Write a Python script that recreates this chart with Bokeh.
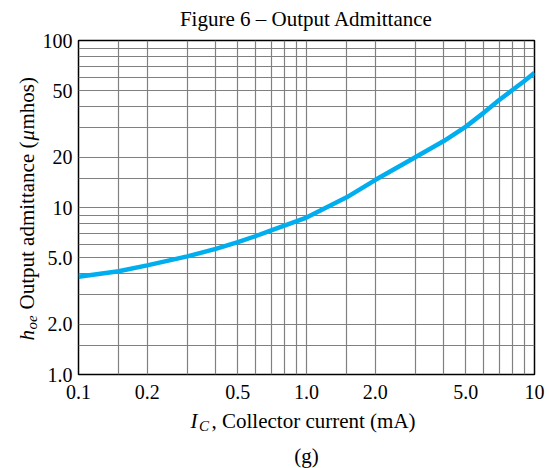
import math
from bokeh.plotting import figure
from bokeh.models import Range1d, FixedTicker, CustomJSTickFormatter, Label, ColumnDataSource
from bokeh.embed import file_html
from bokeh.resources import INLINE

# ---- data ----
ic = [0.1, 0.15, 0.2, 0.3, 0.4, 0.5, 0.6, 0.7, 0.8, 0.9, 1.0,
      1.5, 2.0, 3.0, 4.0, 5.0, 6.0, 7.0, 8.0, 9.0, 10.0]
hoe = [3.85, 4.15, 4.5, 5.1, 5.65, 6.2, 6.75, 7.3, 7.8, 8.25, 8.7,
       11.5, 14.6, 20.0, 25.0, 30.5, 37.0, 44.0, 50.5, 57.0, 64.0]

x_ticks = [0.1, 0.2, 0.5, 1.0, 2.0, 5.0, 10.0]
x_tick_labels = ["0.1", "0.2", "0.5", "1.0", "2.0", "5.0", "10"]
y_ticks = [1.0, 2.0, 5.0, 10.0, 20.0, 50.0, 100.0]
y_tick_labels = ["1.0", "2.0", "5.0", "10", "20", "50", "100"]

x_grid = [0.1, 0.15, 0.2, 0.3, 0.4, 0.5, 0.6, 0.7, 0.8, 0.9,
          1.0, 1.5, 2.0, 3.0, 4.0, 5.0, 6.0, 7.0, 8.0, 9.0, 10.0]
y_grid = [1.0, 1.5, 2.0, 3.0, 4.0, 5.0, 6.0, 7.0, 8.0, 9.0,
          10.0, 15.0, 20.0, 30.0, 40.0, 50.0, 60.0, 70.0, 80.0, 90.0, 100.0]

title_text = "Figure 6 \u2013 Output Admittance"
FONT = "Liberation Serif"

W, H = 549, 468
BL, BR, BT, BB = 78, 15, 40, 94

# ---------------- chart ----------------
p = figure(width=W, height=H, x_axis_type="log", y_axis_type="log",
           x_range=Range1d(0.1, 10), y_range=Range1d(1, 100),
           output_backend="svg", toolbar_location=None,
           min_border_left=BL, min_border_right=BR,
           min_border_top=BT, min_border_bottom=BB)
p.background_fill_color = "white"
p.border_fill_color = "white"
p.outline_line_color = "black"
p.outline_line_width = 1.5

fmt_code = """
for (let i = 0; i < vals.length; i++) {
  if (Math.abs(Math.log10(vals[i]) - Math.log10(tick)) < 1e-6) return labs[i];
}
return '';
"""
for ax, ticks, labs, standoff in [(p.xaxis[0], x_ticks, x_tick_labels, 10),
                                  (p.yaxis[0], y_ticks, y_tick_labels, 6)]:
    ax.ticker = FixedTicker(ticks=ticks)
    ax.formatter = CustomJSTickFormatter(args=dict(vals=ticks, labs=labs), code=fmt_code)
    ax.axis_line_color = None
    ax.major_tick_line_color = None
    ax.minor_tick_line_color = None
    ax.major_tick_out = 0
    ax.major_tick_in = 0
    ax.major_label_text_font = FONT
    ax.major_label_text_font_size = "20px"
    ax.major_label_text_color = "black"
    ax.major_label_standoff = standoff

p.xgrid.ticker = FixedTicker(ticks=x_grid)
p.ygrid.ticker = FixedTicker(ticks=y_grid)
for g in (p.xgrid, p.ygrid):
    g.grid_line_color = "#808080"
    g.grid_line_width = 1.2
    g.grid_line_alpha = 1.0

src = ColumnDataSource(dict(x=ic, y=hoe))
p.line("x", "y", source=src, line_color="#00AEEF", line_width=4.5)

# ---------------- text overlay (title / axis titles / caption) ----------------
t = figure(width=W, height=H, x_range=Range1d(0, W), y_range=Range1d(0, H),
           output_backend="svg", toolbar_location=None, title=None,
           x_axis_location=None, y_axis_location=None,
           min_border=0, min_border_left=0, min_border_right=0,
           min_border_top=0, min_border_bottom=0)
t.grid.visible = False
t.outline_line_color = None
t.background_fill_color = None
t.border_fill_color = None
t.styles = {"position": "absolute", "left": "0px", "top": "0px",
            "z-index": "10", "pointer-events": "none"}

def lab(text, px, py, size="21px", style="normal", align="left", angle=0.0):
    # px, py: text anchor on the page, y measured from the top
    t.add_layout(Label(x=px, y=H - py, x_units="screen", y_units="screen", text=text,
                       text_font=FONT, text_font_size=size, text_font_style=style,
                       text_align=align, text_baseline="alphabetic",
                       text_color="black", angle=angle))

FX = (BL + (W - BR)) / 2
lab(title_text, FX, 18.5, align="center")
lab("I", 190, 420, style="italic")
lab("C", 198.5, 425.5, size="15px", style="italic")
lab(", Collector current (mA)", 211, 420)
lab("(g)", FX, 455, align="center")

A = math.pi / 2
lab("h", 26, 340, style="italic", angle=A)
lab("oe", 31.5, 329, size="15px", style="italic", angle=A)
lab("Output admittance (", 26, 309, angle=A)
lab("\u03bc", 26, 140, style="italic", angle=A)
lab("mhos)", 26, 129, angle=A)

open("out.html", "w").write(file_html([p, t], INLINE))
